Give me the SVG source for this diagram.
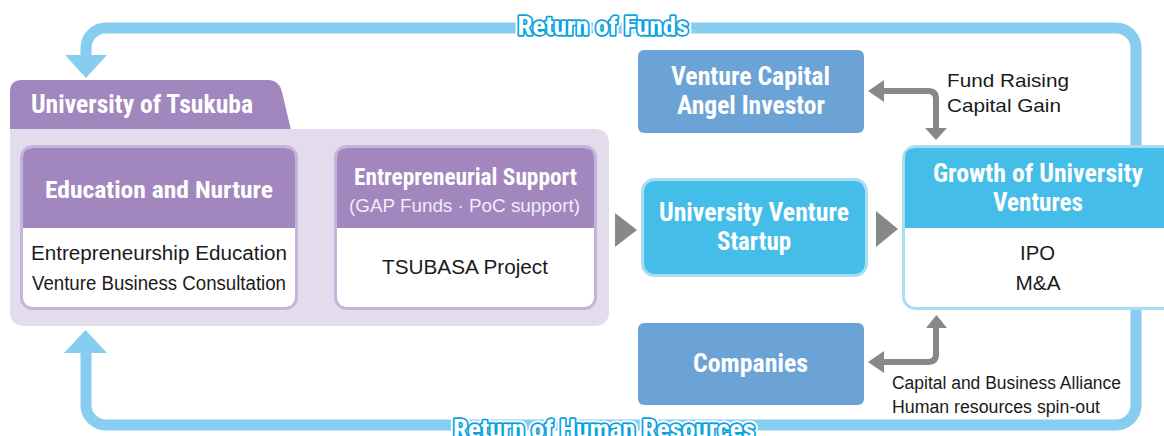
<svg xmlns="http://www.w3.org/2000/svg" width="1164" height="436" viewBox="0 0 1164 436">
<defs>
<style>
.h{font-family:"Roboto Condensed","Liberation Sans Narrow","DejaVu Sans Condensed","Liberation Sans",sans-serif;font-weight:700;fill:#ffffff;text-anchor:middle}
.b{font-family:"Liberation Sans","Noto Sans",sans-serif;font-size:20px;fill:#1a1a1a}
.s{font-size:18px}
.m{font-size:19px}
.c{text-anchor:middle}
.sub{font-family:"Liberation Sans","Noto Sans",sans-serif;font-size:18px;fill:#F1ECF6;text-anchor:middle}
.loop{fill:none;stroke:#86CDEF;stroke-width:11}
.lp{fill:#86CDEF}
.gline{fill:none;stroke:#888888;stroke-width:6}
.gh{fill:#888888}
.ret{font-family:"Roboto Condensed","Liberation Sans Narrow","DejaVu Sans Condensed","Liberation Sans",sans-serif;font-weight:700;font-size:26px;text-anchor:middle;paint-order:stroke;stroke-linejoin:round}
.ret1{fill:#ffffff;stroke:#ffffff;stroke-width:7}
.ret2{fill:#ffffff;stroke:#0AA3E0;stroke-width:3.4}
.pur{fill:#A286BE}
.cyan{fill:#45BDE9}
.blue{fill:#6CA3D7}
</style>
</defs>

<g id="connectors">
<path class="loop" d="M86 56 V48 A20 20 0 0 1 106 28 H1116 A20 20 0 0 1 1136 48 V405 A20 20 0 0 1 1116 425 H106 A20 20 0 0 1 86 405 V352"/>
<polygon class="lp" points="65,55 107,55 86,78"/>
<polygon class="lp" points="64,353 107,353 85.5,330"/>
<path class="gline" d="M882 91 H928 Q936 91 936 99 V129"/>
<polygon class="gh" points="868,91 884,80 884,102"/>
<polygon class="gh" points="925,128 947,128 936,140"/>
<path class="gline" d="M882 362 H928 Q936 362 936 354 V327"/>
<polygon class="gh" points="868,362 884,351 884,373"/>
<polygon class="gh" points="926,328 947,328 936.5,315"/>
<polygon class="gh" points="306,213 328,230 306,247"/>
<polygon class="gh" points="615,213 637,230 615,247"/>
<polygon class="gh" points="876,211 898,229 876,247"/>
<text class="ret ret1" x="603" y="35" textLength="171" lengthAdjust="spacingAndGlyphs">Return of Funds</text>
<text class="ret ret2" x="603" y="35" textLength="171" lengthAdjust="spacingAndGlyphs">Return of Funds</text>
<text class="ret ret1" x="604" y="438" textLength="302" lengthAdjust="spacingAndGlyphs">Return of Human Resources</text>
<text class="ret ret2" x="604" y="438" textLength="302" lengthAdjust="spacingAndGlyphs">Return of Human Resources</text>
</g>

<g id="university">
<path class="pur" d="M10 130 V92 Q10 80 22 80 H268 Q279 80 282 92 L291 130 Z"/>
<path fill="#E3DCED" d="M10 129 H594 Q609 129 609 144 V311 Q609 326 594 326 H25 Q10 326 10 311 Z"/>
<text class="h" x="142" y="113" font-size="25" textLength="222" lengthAdjust="spacingAndGlyphs">University of Tsukuba</text>
</g>

<g id="education">
<rect x="21.5" y="146.5" width="275" height="162" rx="11" fill="#ffffff" stroke="#C4B3DA" stroke-width="3"/>
<path class="pur" d="M23 228 V158 Q23 148 33 148 H285 Q295 148 295 158 V228 Z"/>
<text class="h" x="159" y="198" font-size="24" textLength="228" lengthAdjust="spacingAndGlyphs">Education and Nurture</text>
<text class="b c" x="159" y="260" textLength="256" lengthAdjust="spacingAndGlyphs">Entrepreneurship Education</text>
<text class="b c" x="159" y="290" textLength="254" lengthAdjust="spacingAndGlyphs">Venture Business Consultation</text>
</g>

<g id="support">
<rect x="335.5" y="146.5" width="260" height="162" rx="11" fill="#ffffff" stroke="#C4B3DA" stroke-width="3"/>
<path class="pur" d="M337 228 V158 Q337 148 347 148 H584 Q594 148 594 158 V228 Z"/>
<text class="h" x="465.5" y="185" font-size="24" textLength="223" lengthAdjust="spacingAndGlyphs">Entrepreneurial Support</text>
<text class="sub" x="464.5" y="212" textLength="231" lengthAdjust="spacingAndGlyphs">(GAP Funds · PoC support)</text>
<text class="b c" x="465" y="274" textLength="166" lengthAdjust="spacingAndGlyphs">TSUBASA Project</text>
</g>

<g id="startup">
<rect x="642.5" y="179.5" width="224" height="96" rx="12" class="cyan" stroke="#A9DDF4" stroke-width="3"/>
<text class="h" x="754" y="221" font-size="26" textLength="190" lengthAdjust="spacingAndGlyphs">University Venture</text>
<text class="h" x="754" y="250" font-size="26" textLength="74" lengthAdjust="spacingAndGlyphs">Startup</text>
</g>

<g id="growth">
<rect x="903.5" y="146.5" width="275" height="162" rx="12" fill="#ffffff" stroke="#A9DDF4" stroke-width="3"/>
<path class="cyan" d="M905 228 V158 Q905 148 915 148 H1180 V228 Z"/>
<text class="h" x="1038" y="182" font-size="26" textLength="210" lengthAdjust="spacingAndGlyphs">Growth of University</text>
<text class="h" x="1038" y="211" font-size="26" textLength="90" lengthAdjust="spacingAndGlyphs">Ventures</text>
<text class="b c" x="1037.5" y="260" textLength="35" lengthAdjust="spacingAndGlyphs">IPO</text>
<text class="b c" x="1038" y="290" textLength="45" lengthAdjust="spacingAndGlyphs">M&amp;A</text>
</g>

<g id="venture-capital">
<rect x="638" y="50" width="226" height="83" rx="6" class="blue"/>
<text class="h" x="750.5" y="85" font-size="26" textLength="159" lengthAdjust="spacingAndGlyphs">Venture Capital</text>
<text class="h" x="751" y="114" font-size="26" textLength="148" lengthAdjust="spacingAndGlyphs">Angel Investor</text>
</g>

<g id="companies">
<rect x="638" y="323" width="226" height="82" rx="6" class="blue"/>
<text class="h" x="750.5" y="372" font-size="26" textLength="115" lengthAdjust="spacingAndGlyphs">Companies</text>
</g>

<g id="labels">
<text class="b m" x="947" y="87" textLength="122" lengthAdjust="spacingAndGlyphs">Fund Raising</text>
<text class="b m" x="947" y="112" textLength="114" lengthAdjust="spacingAndGlyphs">Capital Gain</text>
<text class="b s" x="892" y="389" textLength="229" lengthAdjust="spacingAndGlyphs">Capital and Business Alliance</text>
<text class="b s" x="892" y="413" textLength="208" lengthAdjust="spacingAndGlyphs">Human resources spin-out</text>
</g>
</svg>
